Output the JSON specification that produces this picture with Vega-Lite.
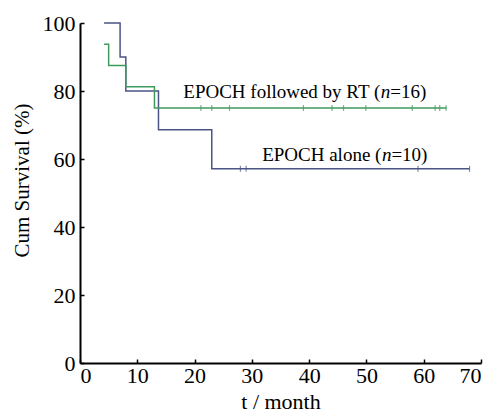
{
  "$schema": "https://vega.github.io/schema/vega-lite/v6.json",
  "width": 401,
  "height": 340,
  "autosize": "none",
  "padding": {"left": 80, "top": 23, "right": 21, "bottom": 50},
  "background": "white",
  "config": {
    "view": {"stroke": null},
    "font": "Liberation Serif",
    "axis": {
      "grid": false,
      "domainColor": "black",
      "domainWidth": 2,
      "tickColor": "black",
      "tickWidth": 1.5,
      "tickSize": -4,
      "labelFont": "Liberation Serif",
      "labelFontSize": 22,
      "labelColor": "black",
      "titleFont": "Liberation Serif",
      "titleFontSize": 21,
      "titleFontWeight": "normal",
      "titleColor": "black"
    }
  },
  "datasets": {
    "curves": [
      {"group": "EPOCH alone", "t": 4.2, "s": 100},
      {"group": "EPOCH alone", "t": 7.0, "s": 90},
      {"group": "EPOCH alone", "t": 8.0, "s": 80},
      {"group": "EPOCH alone", "t": 13.7, "s": 68.6},
      {"group": "EPOCH alone", "t": 23.0, "s": 57.1},
      {"group": "EPOCH alone", "t": 68.0, "s": 57.1},
      {"group": "EPOCH followed by RT", "t": 4.2, "s": 93.75},
      {"group": "EPOCH followed by RT", "t": 5.0, "s": 87.5},
      {"group": "EPOCH followed by RT", "t": 8.0, "s": 81.25},
      {"group": "EPOCH followed by RT", "t": 13.0, "s": 75},
      {"group": "EPOCH followed by RT", "t": 64.0, "s": 75}
    ],
    "censor": [
      {"group": "EPOCH alone", "t": 28.0, "s": 57.1},
      {"group": "EPOCH alone", "t": 29.0, "s": 57.1},
      {"group": "EPOCH alone", "t": 59.0, "s": 57.1},
      {"group": "EPOCH alone", "t": 68.0, "s": 57.1},
      {"group": "EPOCH followed by RT", "t": 21.1, "s": 75},
      {"group": "EPOCH followed by RT", "t": 23.0, "s": 75},
      {"group": "EPOCH followed by RT", "t": 26.1, "s": 75},
      {"group": "EPOCH followed by RT", "t": 39.0, "s": 75},
      {"group": "EPOCH followed by RT", "t": 44.0, "s": 75},
      {"group": "EPOCH followed by RT", "t": 46.0, "s": 75},
      {"group": "EPOCH followed by RT", "t": 49.9, "s": 75},
      {"group": "EPOCH followed by RT", "t": 58.0, "s": 75},
      {"group": "EPOCH followed by RT", "t": 62.0, "s": 75},
      {"group": "EPOCH followed by RT", "t": 62.8, "s": 75},
      {"group": "EPOCH followed by RT", "t": 63.9, "s": 75}
    ],
    "labels": [
      {"pre": "EPOCH followed by RT (", "n": "n", "post": "=16)", "t": 52.5, "s": 79.7},
      {"pre": "EPOCH alone (", "n": "n", "post": "=10)", "t": 52.7, "s": 61.2}
    ]
  },
  "layer": [
    {
      "data": {"name": "curves"},
      "mark": {"type": "line", "interpolate": "step-after", "strokeWidth": 1.5},
      "encoding": {
        "x": {"field": "t", "type": "quantitative", "scale": {"domain": [0, 70]}, "axis": {"values": [0,10,20,30,40,50,60,70], "title": "t / month", "labelPadding": 6, "titlePadding": 5, "titleFontSize": 22}},
        "y": {"field": "s", "type": "quantitative", "scale": {"domain": [0, 100]}, "axis": {"values": [0,20,40,60,80,100], "title": "Cum Survival (%)", "labelPadding": 9, "titleX": -48, "titleY": 157}},
        "color": {"field": "group", "type": "nominal", "scale": {"domain": ["EPOCH alone", "EPOCH followed by RT"], "range": ["#4a5585", "#3f9a5e"]}, "legend": null}
      }
    },
    {
      "data": {"name": "censor"},
      "mark": {"type": "tick", "orient": "vertical", "size": 6, "thickness": 1.2},
      "encoding": {
        "x": {"field": "t", "type": "quantitative"},
        "y": {"field": "s", "type": "quantitative"},
        "color": {"field": "group", "type": "nominal", "legend": null}
      }
    },
    {
      "data": {"name": "labels"},
      "mark": {"type": "text", "font": "Liberation Serif", "fontSize": 19, "color": "black", "align": "right", "dx": -0.5},
      "encoding": {
        "x": {"field": "t", "type": "quantitative"},
        "y": {"field": "s", "type": "quantitative"},
        "text": {"field": "pre"}
      }
    },
    {
      "data": {"name": "labels"},
      "mark": {"type": "text", "font": "Liberation Serif", "fontSize": 19, "fontStyle": "italic", "color": "black", "align": "left"},
      "encoding": {
        "x": {"field": "t", "type": "quantitative"},
        "y": {"field": "s", "type": "quantitative"},
        "text": {"field": "n"}
      }
    },
    {
      "data": {"name": "labels"},
      "mark": {"type": "text", "font": "Liberation Serif", "fontSize": 19, "color": "black", "align": "left", "dx": 9.5},
      "encoding": {
        "x": {"field": "t", "type": "quantitative"},
        "y": {"field": "s", "type": "quantitative"},
        "text": {"field": "post"}
      }
    }
  ]
}
